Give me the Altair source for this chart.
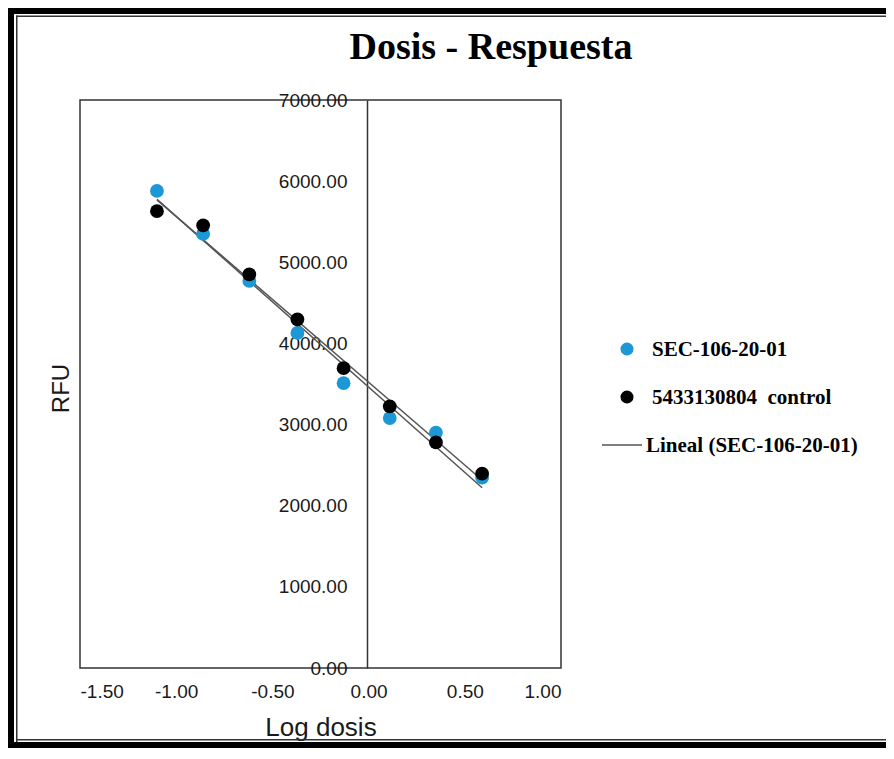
import altair as alt
import pandas as pd

# ---- data ----
log_dosis = [-1.10, -0.86, -0.62, -0.37, -0.13, 0.11, 0.35, 0.59]
rfu_sec = [5880, 5350, 4770, 4130, 3510, 3080, 2900, 2345]
rfu_ctrl = [5630, 5455, 4850, 4295, 3695, 3225, 2780, 2395]
series_names = ["SEC-106-20-01", "5433130804\u00a0 control"]
series_colors = ["#1b98d5", "#000000"]
legend_labels = ["SEC-106-20-01", "5433130804\u00a0 control", "Lineal (SEC-106-20-01)"]
x_ticks = [-1.5, -1.0, -0.5, 0.0, 0.5, 1.0]
y_ticks = [0, 1000, 2000, 3000, 4000, 5000, 6000, 7000]
chart_title = "Dosis - Respuesta"
x_title = "Log dosis"
y_title = "RFU"

rows = []
for name, vals in zip(series_names, [rfu_sec, rfu_ctrl]):
    for x, y in zip(log_dosis, vals):
        rows.append({"log": x, "rfu": y, "serie": name})
df = pd.DataFrame(rows)

W, H = 481, 568
PAD = {"left": 72, "top": 92, "right": 325, "bottom": 80}
RIGHT = W + PAD["right"]
BOTTOM = H + PAD["bottom"]

label_expr = "(datum.value < 0 ? '-' : '') + format(abs(datum.value), '.2f')"

x_enc = alt.X(
    "log:Q",
    scale=alt.Scale(domain=[-1.5, 1.0], nice=False, zero=False),
    axis=alt.Axis(
        values=x_ticks, labelExpr=label_expr, domain=False, ticks=False, grid=False,
        labelFont="Liberation Sans", labelFontSize=19, labelColor="#1a1a1a",
        labelPadding=14, title=x_title, titleFont="Liberation Sans",
        titleFontSize=26, titleFontWeight="normal", titleColor="#1a1a1a",
        titleY=59, titleBaseline="middle",
    ),
)
y_enc = alt.Y(
    "rfu:Q",
    scale=alt.Scale(domain=[0, 7000], nice=False),
    axis=alt.Axis(
        values=y_ticks, labelExpr=label_expr, domain=True, domainColor="#333",
        domainWidth=1.5, ticks=False, grid=False, offset=-287,
        labelFont="Liberation Sans", labelFontSize=19, labelColor="#1a1a1a",
        labelPadding=20, title=y_title, titleFont="Liberation Sans",
        titleFontSize=24, titleFontWeight="normal", titleColor="#1a1a1a",
        titleAngle=270, titleX=-306, titleY=288, titleAlign="center",
        titleBaseline="middle",
    ),
)

base = alt.Chart(df)

lines = base.transform_regression("log", "rfu", groupby=["serie"]).mark_line(
    color="#555555", strokeWidth=1.5
).encode(x=x_enc, y=y_enc, detail="serie:N")

points = base.mark_circle(size=190, opacity=1).encode(
    x=x_enc, y=y_enc,
    color=alt.Color("serie:N", scale=alt.Scale(domain=series_names, range=series_colors), legend=None),
)

one = pd.DataFrame({"a": [0]})

def bar(x1, x2, y1, y2, color="#000"):
    return alt.Chart(one).mark_rect(color=color).encode(
        x=alt.value(x1), x2=alt.value(x2), y=alt.value(y1), y2=alt.value(y2)
    )

FR = RIGHT + 10
frame = [
    bar(-72, FR, -92, -86),
    bar(-72, -66, -92, BOTTOM),
    bar(-64, FR, -84.5, -83, "#333"),
    bar(-64, -62.5, -84.5, BOTTOM, "#333"),
    bar(-64, FR, BOTTOM - 9, BOTTOM - 7.5, "#333"),
    bar(-72, FR, BOTTOM - 6, BOTTOM),
]

title = alt.Chart(pd.DataFrame({"t": [chart_title]})).mark_text(
    font="Liberation Serif", fontWeight="bold", fontSize=38, align="center",
    baseline="middle", color="#000"
).encode(x=alt.value(411), y=alt.value(-52), text="t:N")

def legend_text(label, x, y):
    return alt.Chart(pd.DataFrame({"t": [label]})).mark_text(
        font="Liberation Serif", fontWeight="bold", fontSize=21, align="left",
        baseline="middle", color="#000"
    ).encode(x=alt.value(x), y=alt.value(y), text="t:N")

def legend_dot(color, x, y):
    return alt.Chart(one).mark_circle(size=170, opacity=1, color=color).encode(
        x=alt.value(x), y=alt.value(y)
    )

legend = [
    legend_dot(series_colors[0], 547, 249),
    legend_text(legend_labels[0], 572, 250),
    legend_dot(series_colors[1], 547, 297),
    legend_text(legend_labels[1], 572, 298),
    alt.Chart(one).mark_rule(color="#000", strokeWidth=1.2).encode(
        x=alt.value(522), x2=alt.value(562), y=alt.value(345)
    ),
    legend_text(legend_labels[2], 566, 346),
]

chart = alt.layer(lines, points, title, *legend, *frame).properties(
    width=W, height=H,
    autosize=alt.AutoSizeParams(type="none"),
    padding=PAD,
    background="white",
).configure_view(stroke="#333", strokeWidth=1.5)

chart.save("out.html", embed_options={"renderer": "svg", "actions": False})
